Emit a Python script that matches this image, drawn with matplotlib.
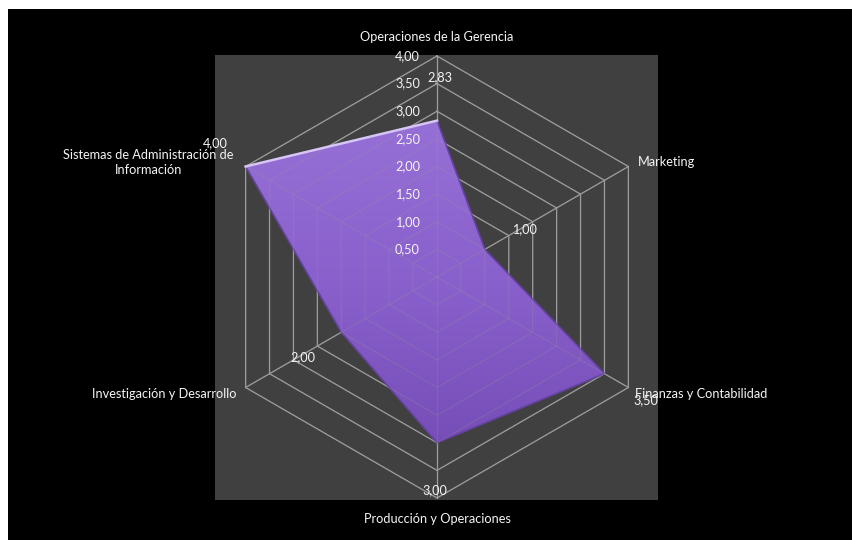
import numpy as np
import matplotlib
matplotlib.use("Agg")
import matplotlib.pyplot as plt
from matplotlib.patches import Rectangle, Polygon
from matplotlib.colors import LinearSegmentedColormap

# Radar data: one score per business area, going clockwise from the top
categories = [
    "Operaciones de la Gerencia",
    "Marketing",
    "Finanzas y Contabilidad",
    "Producción y Operaciones",
    "Investigación y Desarrollo",
    "Sistemas de Administración de\nInformación",
]
scores = [2.83, 1.00, 3.50, 3.00, 2.00, 4.00]
ring_levels = [0.50, 1.00, 1.50, 2.00, 2.50, 3.00, 3.50, 4.00]

R_MAX = 4.0
PX = 221 / R_MAX          # pixels per unit of score
CX, CY = 437, 277         # chart centre in pixels (from top-left)
W, H = 853, 540

TEXT = "#f4f4f4"
GRID = "#9c9c9c"
FONT = "Lato"
FS = 9.2

# label offsets in pixels (x right, y up)
cat_offsets = [(0, 19), (9, 4), (7, -7), (0, -21), (-9, -7), (-97, 4)]
cat_align = ["center", "left", "left", "center", "right", "center"]
val_offsets = [(3, 43), (40, 20), (41, -26), (-2, -47), (-38, -25), (-30, 23)]


def fmt(v):
    return f"{v:.2f}".replace(".", ",")


n = len(categories)
angles = np.deg2rad(90 - 360 / n * np.arange(n))
ux, uy = np.cos(angles), np.sin(angles)

fig = plt.figure(figsize=(W / 100, H / 100), dpi=100, facecolor="white")
ax = fig.add_axes([0, 0, 1, 1])
ax.axis("off")

# black chart area, leaving the thin white margin on top and left
ax.add_patch(Rectangle((8 / W, 0), 1, 1 - 9 / H, transform=fig.transFigure,
                       facecolor="black", edgecolor="none", zorder=0))

# plot area
ax.add_patch(Rectangle(((215 - CX) / PX, -(500 - CY) / PX), (658 - 215) / PX, (500 - 55) / PX,
                       facecolor="#404040", edgecolor="none", zorder=1))


def draw_grid(z, alpha):
    for r in ring_levels:
        xs = np.append(ux * r, ux[0] * r)
        ys = np.append(uy * r, uy[0] * r)
        ax.plot(xs, ys, color=GRID, lw=0.9, alpha=alpha, zorder=z)
    for i in range(n):
        ax.plot([0, ux[i] * R_MAX], [0, uy[i] * R_MAX], color=GRID, lw=0.9, alpha=alpha, zorder=z)


draw_grid(2, 1.0)

# filled series with a soft vertical gradient
vals = np.array(scores)
pts = np.column_stack([ux * vals, uy * vals])
poly = Polygon(pts, closed=True, facecolor="none", edgecolor="none")
ax.add_patch(poly)
grad = np.linspace(0, 1, 256).reshape(-1, 1)
cmap = LinearSegmentedColormap.from_list("purple", ["#774db8", "#8a60cc", "#9670d6"])
im = ax.imshow(grad, extent=[pts[:, 0].min(), pts[:, 0].max(), pts[:, 1].min(), pts[:, 1].max()],
               origin="lower", cmap=cmap, aspect="auto", zorder=3, interpolation="bilinear")
im.set_clip_path(poly)
ax.plot(np.append(pts[:, 0], pts[0, 0]), np.append(pts[:, 1], pts[0, 1]),
        color="#6442a0", lw=1.2, zorder=4)
ax.plot([pts[5, 0], pts[0, 0]], [pts[5, 1], pts[0, 1]], color="#d6c6f6", lw=1.8, zorder=5)

draw_grid(4, 0.22)

# value axis labels along the top spoke
for r in ring_levels:
    ax.annotate(fmt(r), xy=(ux[0] * r, uy[0] * r), xytext=(-17, 0), textcoords="offset pixels",
                ha="right", va="center", color=TEXT, fontsize=FS, family=FONT, zorder=6)

# category labels at the outer ring
for i, name in enumerate(categories):
    ax.annotate(name, xy=(ux[i] * R_MAX, uy[i] * R_MAX), xytext=cat_offsets[i],
                textcoords="offset pixels", ha=cat_align[i], va="center", color=TEXT,
                fontsize=FS, family=FONT, multialignment="center", linespacing=1.25, zorder=6)

# data labels
for i, v in enumerate(scores):
    ax.annotate(fmt(v), xy=(pts[i, 0], pts[i, 1]), xytext=val_offsets[i],
                textcoords="offset pixels", ha="center", va="center", color=TEXT,
                fontsize=FS, family=FONT, zorder=6)

ax.set_xlim(-CX / PX, (W - CX) / PX)
ax.set_ylim(-(H - CY) / PX, CY / PX)

fig.savefig("out.png", dpi=100, facecolor=fig.get_facecolor())
